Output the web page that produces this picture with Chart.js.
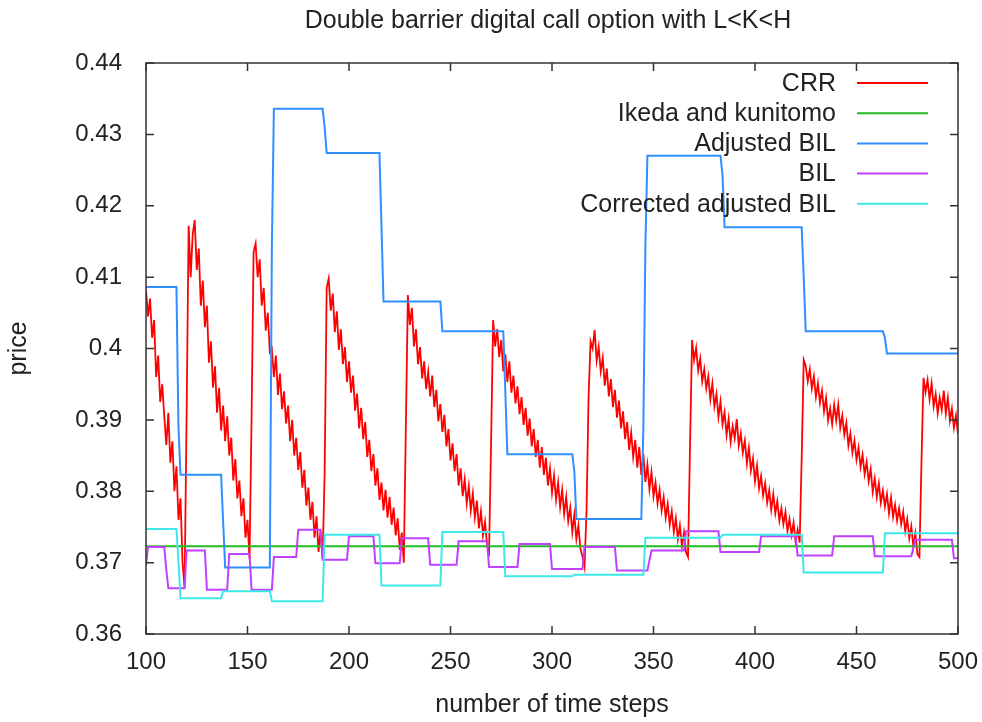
<!DOCTYPE html>
<html><head><meta charset="utf-8">
<script src="https://cdn.jsdelivr.net/npm/chart.js@4.4.1/dist/chart.umd.min.js"></script>
<style>html,body{margin:0;padding:0;background:#fff;}#wrap{width:982px;height:722px;}</style>
</head><body><div id="wrap"><canvas id="c" width="982" height="722"></canvas></div>
<script>
// ---- data ----
const crrStart = 100; // first time step of the CRR series (one value per step)
const crrValues = [
0.4082,0.4045,0.4070,0.4015,0.4040,0.3960,0.3990,0.3925,0.3950,0.3905,
0.3865,0.3910,0.3840,0.3870,0.3800,0.3835,0.3760,0.3790,0.3700,0.3665,
0.3905,0.4172,0.4100,0.4160,0.4180,0.4110,0.4140,0.4060,0.4095,0.4030,
0.4060,0.3980,0.4010,0.3945,0.3975,0.3910,0.3945,0.3885,0.3920,0.3870,
0.3905,0.3850,0.3875,0.3815,0.3845,0.3790,0.3815,0.3765,0.3790,0.3735,
0.3760,0.3705,0.3902,0.4135,0.4147,0.4100,0.4125,0.4060,0.4085,0.4025,
0.4050,0.3995,0.4000,0.3960,0.3990,0.3935,0.3965,0.3915,0.3940,0.3895,
0.3920,0.3870,0.3900,0.3850,0.3875,0.3830,0.3855,0.3805,0.3830,0.3780,
0.3805,0.3760,0.3785,0.3735,0.3765,0.3715,0.3745,0.3705,0.3825,0.4085,
0.4098,0.4053,0.4077,0.4023,0.4052,0.3998,0.4027,0.3978,0.4002,0.3953,
0.3982,0.3938,0.3962,0.3913,0.3937,0.3888,0.3917,0.3873,0.3897,0.3848,
0.3872,0.3828,0.3852,0.3808,0.3832,0.3788,0.3812,0.3773,0.3802,0.3763,
0.3792,0.3753,0.3777,0.3738,0.3762,0.3718,0.3742,0.3700,0.3889,0.4075,
0.4033,0.4057,0.4003,0.4027,0.3978,0.4002,0.3958,0.3982,0.3943,0.3967,
0.3933,0.3962,0.3918,0.3942,0.3898,0.3922,0.3883,0.3907,0.3863,0.3887,
0.3843,0.3867,0.3828,0.3852,0.3808,0.3832,0.3793,0.3817,0.3783,0.3807,
0.3773,0.3797,0.3763,0.3787,0.3748,0.3772,0.3738,0.3757,0.3725,0.3715,
0.3869,0.4040,0.4003,0.4027,0.3988,0.4012,0.3968,0.3992,0.3953,0.3982,
0.3938,0.3962,0.3923,0.3947,0.3908,0.3932,0.3893,0.3917,0.3878,0.3902,
0.3863,0.3887,0.3848,0.3872,0.3833,0.3862,0.3823,0.3847,0.3808,0.3832,
0.3798,0.3822,0.3788,0.3812,0.3778,0.3802,0.3768,0.3792,0.3758,0.3777,
0.3743,0.3767,0.3733,0.3752,0.3720,0.3708,0.3694,0.3771,0.3931,0.4010,
0.4000,0.4026,0.3983,0.4002,0.3968,0.3987,0.3948,0.3972,0.3933,0.3957,
0.3918,0.3942,0.3903,0.3927,0.3888,0.3912,0.3873,0.3897,0.3858,0.3882,
0.3848,0.3872,0.3833,0.3862,0.3823,0.3852,0.3813,0.3837,0.3803,0.3827,
0.3793,0.3812,0.3783,0.3802,0.3773,0.3792,0.3763,0.3782,0.3753,0.3772,
0.3743,0.3762,0.3733,0.3752,0.3723,0.3742,0.3715,0.3708,0.3865,0.4012,
0.3984,0.4001,0.3969,0.3986,0.3954,0.3971,0.3944,0.3961,0.3929,0.3951,
0.3919,0.3936,0.3904,0.3926,0.3894,0.3911,0.3879,0.3901,0.3869,0.3891,
0.3874,0.3901,0.3864,0.3881,0.3854,0.3871,0.3839,0.3861,0.3829,0.3846,
0.3814,0.3836,0.3804,0.3821,0.3794,0.3811,0.3784,0.3801,0.3774,0.3796,
0.3769,0.3786,0.3759,0.3776,0.3754,0.3771,0.3744,0.3761,0.3739,0.3756,
0.3729,0.3746,0.3728,0.3847,0.3984,0.3975,0.3954,0.3971,0.3944,0.3961,
0.3932,0.3951,0.3924,0.3941,0.3912,0.3931,0.3899,0.3916,0.3894,0.3921,
0.3899,0.3921,0.3889,0.3906,0.3879,0.3896,0.3864,0.3881,0.3854,0.3871,
0.3844,0.3861,0.3834,0.3851,0.3824,0.3841,0.3814,0.3831,0.3799,0.3818,
0.3792,0.3811,0.3784,0.3801,0.3779,0.3796,0.3769,0.3791,0.3764,0.3781,
0.3759,0.3776,0.3754,0.3771,0.3744,0.3761,0.3734,0.3751,0.3722,0.3741,
0.3712,0.3708,0.3840,0.3959,0.3939,0.3956,0.3929,0.3951,0.3919,0.3936,
0.3909,0.3931,0.3914,0.3941,0.3909,0.3931,0.3899,0.3916,0.3889,0.3906,
0.3880
];

const ikedaSteps  = [100, 500];
const ikedaValues = [0.3723, 0.3723];

const adjSteps  = [100,115,116,117,137,138,139,161,162,163,187,188,189,215,216,217,245,246,276,277,278,310,311,312,344,345,346,347,383,384,385,423,424,425,463,464,465,500];
const adjValues = [0.4086,0.4086,0.3889,0.3823,0.3823,0.3757,0.3693,0.3693,0.4142,0.4336,0.4336,0.4310,0.4274,0.4274,0.4171,0.4066,0.4066,0.4024,0.4024,0.3940,0.3852,0.3852,0.3828,0.3761,0.3761,0.3889,0.4142,0.4270,0.4270,0.4243,0.4170,0.4170,0.4099,0.4024,0.4024,0.4015,0.3993,0.3993];

const bilSteps  = [100,101,109,110,111,119,120,129,130,140,141,151,152,162,163,174,175,186,187,199,200,212,213,225,226,239,240,253,254,268,269,283,284,299,300,315,316,331,332,347,349,365,366,382,383,402,403,420,421,438,439,458,459,477,479,497,498,500];
const bilValues = [0.3697,0.3722,0.3722,0.3690,0.3664,0.3664,0.3717,0.3717,0.3662,0.3662,0.3712,0.3712,0.3662,0.3662,0.3708,0.3708,0.3746,0.3746,0.3704,0.3704,0.3737,0.3737,0.3699,0.3699,0.3734,0.3734,0.3697,0.3697,0.3730,0.3730,0.3694,0.3694,0.3726,0.3726,0.3691,0.3691,0.3722,0.3722,0.3689,0.3689,0.3717,0.3717,0.3744,0.3744,0.3715,0.3715,0.3737,0.3737,0.3710,0.3710,0.3737,0.3737,0.3709,0.3709,0.3732,0.3732,0.3706,0.3706];

const corrSteps  = [100,115,116,117,137,138,161,162,187,188,215,216,245,246,276,277,310,311,345,346,383,384,423,424,463,464,500];
const corrValues = [0.3747,0.3747,0.3700,0.3650,0.3650,0.3660,0.3660,0.3646,0.3646,0.3739,0.3739,0.3668,0.3668,0.3743,0.3743,0.3681,0.3681,0.3683,0.3683,0.3735,0.3735,0.3739,0.3739,0.3686,0.3686,0.3741,0.3741];

const xTickLabels = ['100','150','200','250','300','350','400','450','500'];
const yTickLabels = ['0.36','0.37','0.38','0.39','0.4','0.41','0.42','0.43','0.44'];
const seriesNames  = ['CRR','Ikeda and kunitomo','Adjusted BIL','BIL','Corrected adjusted BIL'];
const seriesColors = ['#ff0000','#22bb22','#2f8fff','#c040ff','#3ce8e8'];
const titleText = 'Double barrier digital call option with L<K<H';
const xTitleText = 'number of time steps';
const yTitleText = 'price';

// ---- chart ----
const FONT = "'Liberation Sans', Arial, sans-serif";
const TXT = '#222222';
const pairs = (xs, ys) => xs.map((x, i) => ({x: x, y: ys[i]}));
const crrPoints = crrValues.map((v, i) => ({x: crrStart + i, y: v}));

const seriesData = [crrPoints, pairs(ikedaSteps, ikedaValues), pairs(adjSteps, adjValues), pairs(bilSteps, bilValues), pairs(corrSteps, corrValues)];

const datasets = seriesData.map((d, i) => ({
  label: seriesNames[i],
  data: d,
  borderColor: seriesColors[i],
  backgroundColor: seriesColors[i],
  borderWidth: i === 0 ? 1.8 : 2,
  pointRadius: 0,
  fill: false,
  tension: 0,
  order: 5 - i
}));

const decorPlugin = {
  id: 'decor',
  afterDraw(chart) {
    const ctx = chart.ctx;
    const a = chart.chartArea;
    const xs = chart.scales.x, ys = chart.scales.y;
    ctx.save();
    ctx.strokeStyle = '#333333';
    ctx.lineWidth = 1.5;
    ctx.strokeRect(a.left, a.top, a.right - a.left, a.bottom - a.top);
    const tl = 8;
    ctx.beginPath();
    xs.ticks.forEach(t => {
      const px = xs.getPixelForValue(t.value);
      ctx.moveTo(px, a.bottom); ctx.lineTo(px, a.bottom - tl);
      ctx.moveTo(px, a.top); ctx.lineTo(px, a.top + tl);
    });
    ys.ticks.forEach(t => {
      const py = ys.getPixelForValue(t.value);
      ctx.moveTo(a.left, py); ctx.lineTo(a.left + tl, py);
      ctx.moveTo(a.right, py); ctx.lineTo(a.right - tl, py);
    });
    ctx.stroke();
    ctx.fillStyle = TXT;
    ctx.font = '25px ' + FONT;
    ctx.textAlign = 'center';
    ctx.textBaseline = 'middle';
    ctx.fillText(titleText, (a.left + a.right) / 2 - 4, 21);
    ctx.textAlign = 'right';
    chart.data.datasets.forEach((ds, i) => {
      const y = a.top + 20 + i * 30.2;
      ctx.fillStyle = TXT;
      ctx.fillText(ds.label, a.right - 122, y + 1);
      ctx.strokeStyle = ds.borderColor;
      ctx.lineWidth = 2;
      ctx.beginPath();
      ctx.moveTo(a.right - 101, y); ctx.lineTo(a.right - 30, y);
      ctx.stroke();
    });
    ctx.restore();
  }
};

new Chart(document.getElementById('c').getContext('2d'), {
  type: 'line',
  data: { datasets: datasets },
  options: {
    responsive: false,
    animation: false,
    devicePixelRatio: 1,
    layout: { padding: { left: 0, right: 24, top: 63, bottom: 0 } },
    plugins: { legend: { display: false }, title: { display: false }, tooltip: { enabled: false } },
    scales: {
      x: {
        type: 'linear', min: 100, max: 500,
        ticks: { stepSize: 50, padding: 14, color: TXT, font: { family: FONT, size: 24 }, maxRotation: 0, autoSkip: false,
                 callback: (v, i) => xTickLabels[i] },
        grid: { display: false, drawTicks: false },
        border: { display: false },
        title: { display: true, text: xTitleText, color: TXT, font: { family: FONT, size: 25 }, padding: { top: 0, bottom: 2 } },
        afterFit: s => { s.height = 88; s.paddingLeft = 0; s.paddingRight = 0; }
      },
      y: {
        type: 'linear', min: 0.36, max: 0.44,
        ticks: { stepSize: 0.01, padding: 24, color: TXT, font: { family: FONT, size: 24 },
                 callback: (v, i) => yTickLabels[i] },
        grid: { display: false, drawTicks: false },
        border: { display: false },
        title: { display: true, text: yTitleText, color: TXT, font: { family: FONT, size: 25 }, padding: { top: 4, bottom: 0 } },
        afterFit: s => { s.width = 146; }
      }
    }
  },
  plugins: [decorPlugin]
});
</script>
</body></html>
